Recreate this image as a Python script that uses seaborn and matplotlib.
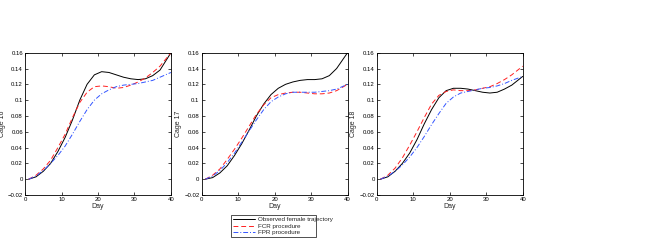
import numpy as np
import pandas as pd
import matplotlib
matplotlib.use("Agg")
import matplotlib.pyplot as plt
import seaborn as sns

days = [1, 3, 5, 7, 9, 11, 13, 15, 17, 19, 21, 23, 25, 27, 29, 31, 33, 35, 37, 40]

cage16_obs = [0, 0.003, 0.010, 0.020, 0.035, 0.053, 0.075, 0.100, 0.120, 0.132, 0.136, 0.135, 0.132, 0.129, 0.127, 0.126, 0.127, 0.131, 0.138, 0.160]
cage16_fcr = [0, 0.005, 0.013, 0.024, 0.040, 0.057, 0.078, 0.097, 0.110, 0.117, 0.118, 0.117, 0.115, 0.116, 0.119, 0.123, 0.128, 0.135, 0.143, 0.160]
cage16_fpr = [0, 0.004, 0.011, 0.020, 0.030, 0.042, 0.057, 0.073, 0.088, 0.100, 0.108, 0.113, 0.117, 0.119, 0.120, 0.121, 0.123, 0.125, 0.129, 0.135]

cage17_obs = [0, 0.002, 0.008, 0.017, 0.030, 0.045, 0.062, 0.080, 0.095, 0.107, 0.115, 0.120, 0.123, 0.125, 0.126, 0.126, 0.127, 0.131, 0.140, 0.160]
cage17_fcr = [0, 0.005, 0.013, 0.025, 0.038, 0.052, 0.067, 0.082, 0.094, 0.103, 0.107, 0.109, 0.110, 0.110, 0.109, 0.108, 0.108, 0.109, 0.112, 0.120]
cage17_fpr = [0, 0.004, 0.011, 0.021, 0.033, 0.047, 0.061, 0.075, 0.088, 0.098, 0.104, 0.108, 0.110, 0.110, 0.110, 0.110, 0.111, 0.112, 0.114, 0.120]

cage18_obs = [0, 0.003, 0.010, 0.020, 0.033, 0.050, 0.070, 0.088, 0.103, 0.112, 0.115, 0.115, 0.114, 0.112, 0.110, 0.109, 0.110, 0.114, 0.119, 0.130]
cage18_fcr = [0, 0.005, 0.014, 0.027, 0.043, 0.060, 0.078, 0.095, 0.106, 0.111, 0.113, 0.112, 0.112, 0.113, 0.115, 0.117, 0.121, 0.126, 0.132, 0.143]
cage18_fpr = [0, 0.004, 0.010, 0.018, 0.028, 0.040, 0.054, 0.069, 0.083, 0.096, 0.104, 0.109, 0.111, 0.113, 0.115, 0.116, 0.118, 0.121, 0.125, 0.130]

panel_labels = ["Cage 16", "Cage 17", "Cage 18"]
series_names = ["Observed female trajectory", "FCR procedure", "FPR procedure"]
x_ticks = [0, 10, 20, 30, 40]
y_ticks = [-0.02, 0, 0.02, 0.04, 0.06, 0.08, 0.1, 0.12, 0.14, 0.16]
y_tick_labels = ["\u22120.02", "0", "0.02", "0.04", "0.06", "0.08", "0.1", "0.12", "0.14", "0.16"]

panels = [
    (cage16_obs, cage16_fcr, cage16_fpr),
    (cage17_obs, cage17_fcr, cage17_fpr),
    (cage18_obs, cage18_fcr, cage18_fpr),
]

sns.set_theme(style="white")
plt.rcParams['font.family'] = ['Liberation Sans', 'DejaVu Sans']

fig = plt.figure(figsize=(6.6, 2.43), dpi=100)
lefts = [0.038, 0.3056, 0.571]
axes = [fig.add_axes([l, 0.1975, 0.221, 0.5856]) for l in lefts]

colors = ["black", "#ff2020", "#3355ff"]
styles = ["-", (0, (5, 3)), (0, (5, 2, 1, 2))]

handles = None
for ax, label, vals in zip(axes, panel_labels, panels):
    for name, v, c, ls in zip(series_names, vals, colors, styles):
        df = pd.DataFrame({"Day": days, "val": v})
        sns.lineplot(data=df, x="Day", y="val", ax=ax, color=c, linewidth=0.7,
                     linestyle=ls, label=name, legend=False)
    ax.set_xlim(0, 40)
    ax.set_ylim(-0.02, 0.16)
    ax.set_xticks(x_ticks)
    ax.set_xticklabels([str(t) for t in x_ticks])
    ax.set_yticks(y_ticks)
    ax.set_yticklabels(y_tick_labels)
    ax.tick_params(direction="in", length=2, width=0.5, labelsize=4.3, pad=1.5,
                   top=True, right=True, bottom=True, left=True, colors="black")
    for s in ax.spines.values():
        s.set_color("black")
        s.set_linewidth(0.6)
    ax.set_xlabel("Day", fontsize=5, labelpad=1)
    ax.set_ylabel(label, fontsize=5, labelpad=1.5)
    handles, labs = ax.get_legend_handles_labels()

leg = fig.legend(handles, series_names, loc="lower left",
                 bbox_to_anchor=(0.345, 0.012, 0.138, 0.095), mode="expand",
                 fontsize=4.5, frameon=True, fancybox=False, handlelength=3.5,
                 borderpad=0.3, labelspacing=0.15, handletextpad=0.5)
leg.get_frame().set_edgecolor("black")
leg.get_frame().set_linewidth(0.6)

fig.savefig("out.png", dpi=100)
